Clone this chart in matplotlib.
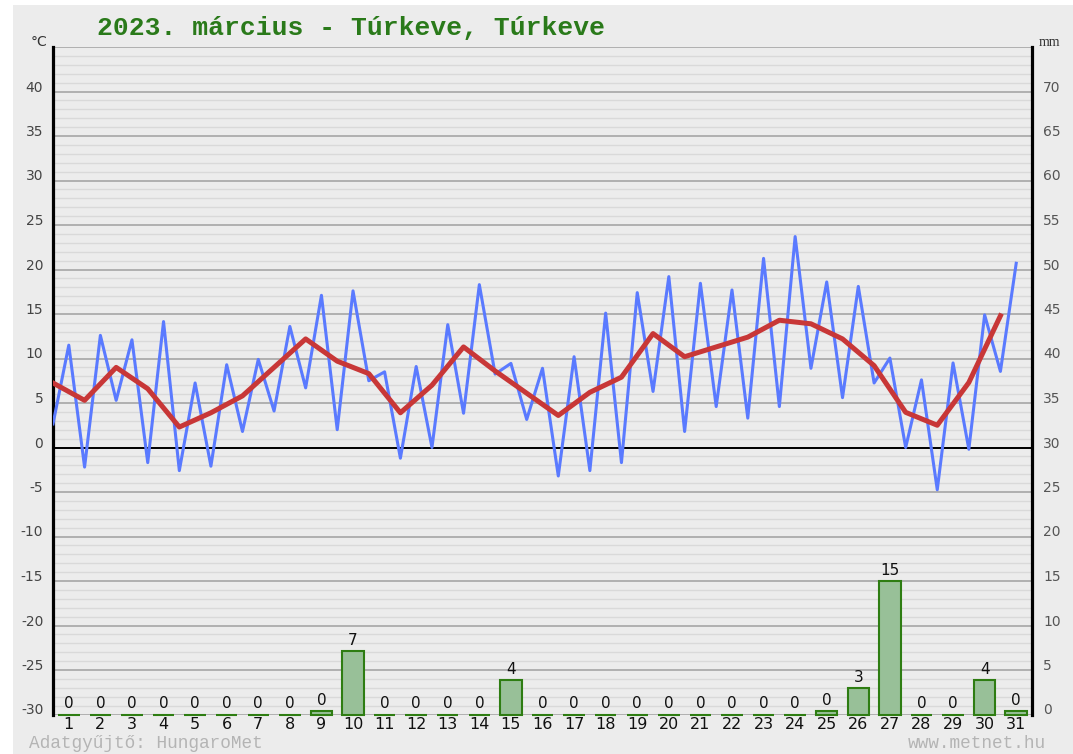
import numpy as np
import matplotlib
matplotlib.use("Agg")
import matplotlib.pyplot as plt
from matplotlib.patches import Rectangle

# ---- data (March 2023, Túrkeve) ----
days = np.arange(1, 32)
t_min = [2.65, -2.2, 5.3, -1.7, -2.6, -2.1, 1.8, 4.1, 6.7, 2.0, 7.5, -1.2, 0.0,
         3.85, 8.25, 3.15, -3.2, -2.6, -1.7, 6.3, 1.8, 4.6, 3.3, 4.6, 8.9, 5.6,
         7.25, 0.0, -4.75, -0.2, 8.55]
t_max = [11.5, 12.6, 12.1, 14.15, 7.25, 9.3, 9.9, 13.6, 17.1, 17.6, 8.5, 9.1,
         13.8, 18.3, 9.45, 8.9, 10.2, 15.1, 17.4, 19.2, 18.45, 17.7, 21.25, 23.7,
         18.6, 18.1, 10.05, 7.6, 9.5, 14.9, 20.7]
t_avg = [7.25, 5.3, 9.0, 6.6, 2.3, 3.9, 5.8, 9.0, 12.2, 9.7, 8.3, 3.9, 7.0, 11.3,
         8.6, 6.1, 3.6, 6.2, 7.9, 12.8, 10.2, 11.3, 12.4, 14.3, 13.9, 12.2, 9.2,
         3.95, 2.5, 7.3, 14.8]
precip = [0, 0, 0, 0, 0, 0, 0, 0, 0.4, 7.1, 0, 0, 0, 0, 3.9, 0, 0, 0, 0, 0, 0,
          0, 0, 0, 0.4, 3.0, 15.0, 0, 0, 3.9, 0.4]
precip_labels = ["0", "0", "0", "0", "0", "0", "0", "0", "0", "7", "0", "0", "0",
                 "0", "4", "0", "0", "0", "0", "0", "0", "0", "0", "0", "0", "3",
                 "15", "0", "0", "4", "0"]

BG = "#ececec"
GREEN_T = "#2a7a1a"

W, H = 1073, 754
fig = plt.figure(figsize=(W / 100, H / 100), dpi=100, facecolor="white")
fig.patches.append(Rectangle((13 / W, 0), 1 - 13 / W, 1 - 5 / H, transform=fig.transFigure,
                             fc=BG, ec="none", zorder=-10))

ax = fig.add_axes([53 / W, 1 - 714.5 / H, (1032 - 53) / W, (714.5 - 47) / H])
ax.set_facecolor(BG)
ax.set_xlim(0.5, 31.5)
ax.set_ylim(-30, 45)

# grid: 1 deg minor, 5 deg major, black zero line
ax.set_yticks(np.arange(-30, 46, 5))
ax.set_yticks(np.arange(-30, 46, 1), minor=True)
ax.grid(which="minor", axis="y", color="#d9d9d9", lw=1.0)
ax.grid(which="major", axis="y", color="#a0a0a0", lw=1.1)
ax.set_axisbelow(True)
ax.axhline(0, color="black", lw=1.4, zorder=1)

ax.set_yticklabels([str(v) for v in range(-30, 46, 5)][:-1] + [""])
ax.tick_params(axis="y", which="both", length=0, pad=7, labelsize=10, labelcolor="#444444")
for t in ax.get_yticklabels():
    t.set_va("baseline")
ax.set_xticks(days)
ax.set_xticklabels([str(d) for d in days])
ax.tick_params(axis="x", length=0, pad=2, labelsize=11.5, labelcolor="#111111")

for s in ("top", "bottom"):
    ax.spines[s].set_visible(False)
ax.spines["left"].set_color("black")
ax.spines["left"].set_linewidth(2.3)

# temperature lines: min/max zigzag + daily mean
x_blue = np.ravel(np.column_stack([days - 0.5, days]))
y_blue = np.ravel(np.column_stack([t_min, t_max]))
ax.plot(x_blue, y_blue, color="#5a7aff", lw=2.2, zorder=4)
ax.plot(days - 0.5, t_avg, color="#c83737", lw=3.6, zorder=5)

# precipitation on the right (mm) axis
ax2 = ax.twinx()
ax2.set_ylim(0, 75)
ax2.set_yticks(np.arange(0, 71, 5))
ax2.tick_params(axis="y", length=0, pad=8, labelsize=10, labelcolor="#555555")
for t in ax2.get_yticklabels():
    t.set_va("baseline")
for s in ("top", "bottom", "left"):
    ax2.spines[s].set_visible(False)
ax2.spines["right"].set_color("black")
ax2.spines["right"].set_linewidth(2.3)
ax2.bar(days, precip, width=0.68, color="#98c098", edgecolor="#2e7d12", lw=1.5,
        clip_on=False, zorder=3)
for d, p, lab in zip(days, precip, precip_labels):
    ax2.annotate(lab, (d, p), xytext=(0, 4.5), textcoords="offset points",
                 ha="center", va="baseline", fontsize=11, color="#111111")

# texts
fig.text(97 / W, 1 - 35 / H, "2023. március - Túrkeve, Túrkeve", fontsize=19,
         family="Liberation Mono", fontweight="bold", color=GREEN_T, va="baseline")
fig.text(47 / W, 1 - 46 / H, "°C", fontsize=10, color="#333333", ha="right", va="baseline")
fig.text(1039 / W, 1 - 46 / H, "mm", fontsize=10, family="Liberation Serif",
         color="#333333", ha="left", va="baseline")
fig.text(29 / W, 1 - 748 / H, "Adatgyűjtő: HungaroMet", fontsize=12.8,
         family="Liberation Mono", color="#b4b4b4", va="baseline")
fig.text(1046 / W, 1 - 748 / H, "www.metnet.hu", fontsize=12.8,
         family="Liberation Mono", color="#b4b4b4", ha="right", va="baseline")

fig.savefig("out.png", dpi=100, facecolor="white")
